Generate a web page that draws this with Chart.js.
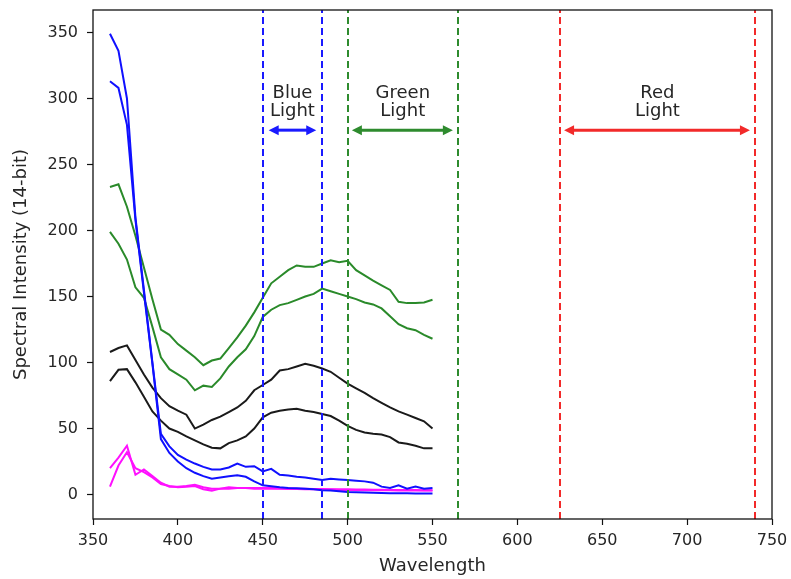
<!DOCTYPE html>
<html><head><meta charset="utf-8">
<script src="https://cdn.jsdelivr.net/npm/chart.js@4/dist/chart.umd.min.js"></script>
<style>html,body{margin:0;padding:0;background:#fff;}#wrap{width:791px;height:579px;}</style>
</head><body><div id="wrap"><canvas id="c" width="791" height="579"></canvas></div>
<script>
const wavelengths = [360,365,370,375,380,385,390,395,400,405,410,415,420,425,430,435,440,445,450,455,460,465,470,475,480,485,490,495,500,505,510,515,520,525,530,535,540,545,550];
const blue1 = [349,336,300,210,155,100,46,36.5,30,26.5,23.5,21,19,19,20.5,23.5,21,21.5,17.5,19.5,15,14.5,13.5,13,12,11,12,11.5,11,10.5,10,9,6,5,7,4.5,6,4.5,5];
const blue2 = [313,308,280,208,153,99,42,31.5,25,20,16.5,14,12,13,13.8,14.6,13.5,10,7,6.3,5.5,5,4.8,4.5,4,3.3,3,2.5,2,1.8,1.5,1.3,1.2,1,1,1,0.9,0.8,0.8];
const green1 = [233,235,218,196,172,148,125,121,114,109,104,98,101.5,103,111,119,128,138,149,160,165,170,173.5,172.5,172.5,175,177.5,176,177,170,166,162,158.5,155,146,145,145,145.5,147.5];
const green2 = [199,190,178,157,149,127,104,95,91,87,79,82.5,81.5,88,97,104,110,120,134.5,140,143.5,145,147.5,150,152,156,154,152,150,148,145.5,144,141,135,129,126,124.5,121,118];
const black1 = [108,111,113,102,91,81,73,67,63.5,60.5,50,53,56.5,59,62.5,66,71,79,83,87,94,95,97,99,97.5,95.5,93,88.5,84,80.5,77,73,69.5,66,63,60.5,58,55.5,50];
const black2 = [86,94.5,95,85,74,63,56,50,47.5,44,41,38,35.5,35,39,41,44,50,58.5,62,63.5,64.5,65,63.5,62.5,61,59.5,56,52,49,47,46,45.5,43.5,39.5,38.5,37,35,35];
const magenta1 = [20,28,37,15,19,14,9,6,6,6.5,7.5,5.5,4.5,4.5,4.5,5,5,4.5,4.5,4.5,4.5,4.3,4.3,4,4,3.8,3.8,3.5,3.5,3.5,3.3,3.3,3.2,3.2,3,3,3,3,3];
const magenta2 = [6,22,32,20,17,13,8,6.5,5.5,6,6.5,4,3,4.5,5.5,5,5,5,5,5,4.8,4.8,4.5,4.5,4.3,4.2,4,4,4,3.8,3.8,3.6,3.6,3.5,3.5,3.4,3.4,3.3,3.3];
const xTicks = [350,400,450,500,550,600,650,700,750];
const yTicks = [0,50,100,150,200,250,300,350];
const bandLabels = [['Blue','Light'],['Green','Light'],['Red','Light']];
const bandStart = [450,500,625];
const bandEnd = [485,565,740];
const arrowStart = [453.5,502.5,627.5];
const arrowEnd = [481.5,562,737];
const arrowLevel = 276;
const labelLevel = 297;

const seriesList = [blue1, blue2, green1, green2, black1, black2, magenta1, magenta2];
const seriesColors = ['#1010ff','#1010ff','#2a8a2a','#2a8a2a','#1a1a1a','#1a1a1a','#ff10ff','#ff10ff'];
const bandColors = ['#1a1aff','#2e8b2e','#f22a2a'];

const FONT = 'DejaVu Sans';
const TEXT = '#262626';

const datasets = seriesList.map((s, k) => ({
  data: wavelengths.map((w, i) => ({x: w, y: s[i]})),
  borderColor: seriesColors[k],
  borderWidth: 2,
  pointRadius: 0,
  tension: 0,
  fill: false
}));

const bandPlugin = {
  id: 'bands',
  afterDatasetsDraw(chart) {
    const {ctx, chartArea: a, scales: {x, y}} = chart;
    ctx.save();
    ctx.beginPath(); ctx.rect(a.left, a.top, a.right - a.left, a.bottom - a.top); ctx.clip();
    for (let b = 0; b < bandStart.length; b++) {
      const col = bandColors[b];
      ctx.strokeStyle = col; ctx.lineWidth = 2; ctx.setLineDash([7, 4]);
      [bandStart[b], bandEnd[b]].forEach(v => {
        const px = Math.round(x.getPixelForValue(v));
        ctx.beginPath(); ctx.moveTo(px, a.bottom); ctx.lineTo(px, a.top); ctx.stroke();
      });
      ctx.setLineDash([]);
      const x1 = x.getPixelForValue(arrowStart[b]), x2 = x.getPixelForValue(arrowEnd[b]);
      const ay = y.getPixelForValue(arrowLevel);
      const hl = 10, hw = 5;
      ctx.lineWidth = 3;
      ctx.beginPath(); ctx.moveTo(x1 + hl - 1, ay); ctx.lineTo(x2 - hl + 1, ay); ctx.stroke();
      ctx.fillStyle = col;
      ctx.beginPath(); ctx.moveTo(x1, ay); ctx.lineTo(x1 + hl, ay - hw); ctx.lineTo(x1 + hl, ay + hw); ctx.closePath(); ctx.fill();
      ctx.beginPath(); ctx.moveTo(x2, ay); ctx.lineTo(x2 - hl, ay - hw); ctx.lineTo(x2 - hl, ay + hw); ctx.closePath(); ctx.fill();
      const cx = x.getPixelForValue((bandStart[b] + bandEnd[b]) / 2);
      const cy = y.getPixelForValue(labelLevel);
      ctx.fillStyle = TEXT; ctx.font = '18px "' + FONT + '"';
      ctx.textAlign = 'center'; ctx.textBaseline = 'middle';
      const lines = bandLabels[b];
      lines.forEach((t, i) => ctx.fillText(t, cx, cy + (i - (lines.length - 1) / 2) * 18));
    }
    ctx.restore();
  },
  afterDraw(chart) {
    const {ctx, chartArea: a} = chart;
    ctx.save();
    ctx.strokeStyle = '#111'; ctx.lineWidth = 1.3;
    ctx.strokeRect(a.left, a.top, a.right - a.left, a.bottom - a.top);
    ctx.restore();
  }
};

new Chart(document.getElementById('c'), {
  type: 'line',
  data: {datasets},
  plugins: [bandPlugin],
  options: {
    responsive: false, animation: false, devicePixelRatio: 1,
    layout: {padding: {left: 0, right: 19, top: 10, bottom: 0}},
    plugins: {legend: {display: false}, tooltip: {enabled: false}},
    scales: {
      x: {
        type: 'linear', min: 350, max: 750,
        afterBuildTicks: s => { s.ticks = xTicks.map(v => ({value: v})); },
        afterFit: s => { s.height = 60; s.paddingLeft = 0; s.paddingRight = 0; },
        grid: {drawOnChartArea: false, drawTicks: true, tickLength: 6, tickColor: '#111', tickWidth: 1.2},
        border: {display: false},
        ticks: {color: TEXT, font: {family: FONT, size: 16}, padding: 6, maxRotation: 0},
        title: {display: true, text: 'Wavelength', color: TEXT, font: {family: FONT, size: 18, lineHeight: 1.2}, padding: {top: 0, bottom: 2}}
      },
      y: {
        type: 'linear', min: -18.5, max: 367,
        afterBuildTicks: s => { s.ticks = yTicks.map(v => ({value: v})); },
        afterFit: s => { s.width = 93; s.paddingTop = 0; s.paddingBottom = 0; },
        grid: {drawOnChartArea: false, drawTicks: true, tickLength: 6, tickColor: '#111', tickWidth: 1.2},
        border: {display: false},
        ticks: {color: TEXT, font: {family: FONT, size: 16}, padding: 9},
        title: {display: true, text: 'Spectral Intensity (14-bit)', color: TEXT, font: {family: FONT, size: 18, lineHeight: 1.2}, padding: {top: 11, bottom: 0}}
      }
    }
  }
});
</script></body></html>
